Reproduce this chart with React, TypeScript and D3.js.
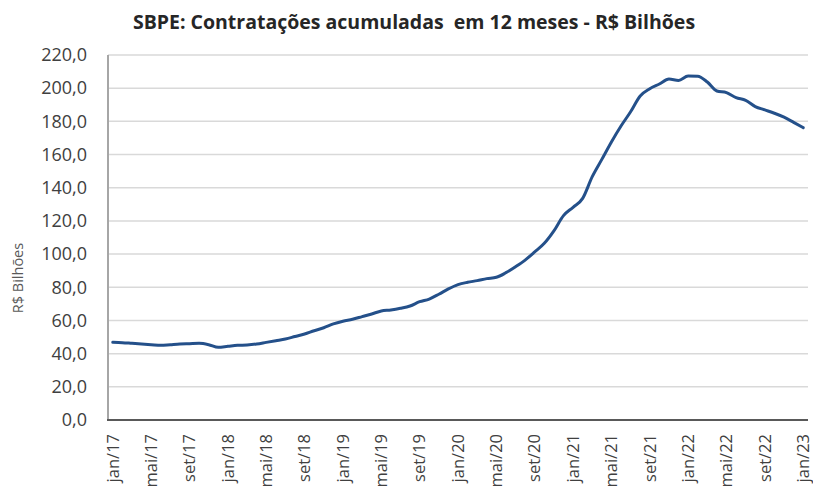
import React from "react";
import * as d3 from "d3";

// month names (pt-BR) and years used to build the category axis
const monthNames = ["jan", "fev", "mar", "abr", "mai", "jun", "jul", "ago", "set", "out", "nov", "dez"];
const years = ["17", "18", "19", "20", "21", "22", "23"];

// SBPE contratações acumuladas em 12 meses, R$ bilhões, jan/17 .. jan/23
const values2017 = [46.8, 46.6, 46.2, 45.8, 45.4, 45.0, 45.4, 45.8, 46.0, 46.2, 45.4, 43.8];
const values2018 = [44.4, 45.0, 45.2, 45.8, 46.8, 47.8, 48.8, 50.3, 51.8, 53.8, 55.6, 57.9];
const values2019 = [59.5, 60.7, 62.3, 63.9, 65.7, 66.3, 67.3, 68.7, 71.3, 72.9, 75.8, 79.0];
const values2020 = [81.6, 83.0, 84.0, 85.2, 86.0, 88.8, 92.4, 96.4, 101.3, 106.5, 114.0, 123.2];
const values2021 = [128.2, 133.6, 146.7, 157.1, 167.6, 177.2, 185.8, 195.3, 199.7, 202.5, 205.5, 204.7];
const values2022 = [207.3, 207.2, 203.7, 198.3, 197.3, 194.3, 192.7, 188.9, 186.9, 184.9, 182.5, 179.4];
const values2023 = [176.2];

const yTicks = [0, 20, 40, 60, 80, 100, 120, 140, 160, 180, 200, 220];

const values = [...values2017, ...values2018, ...values2019, ...values2020, ...values2021, ...values2022, ...values2023];
const categories = values.map((_, i) => monthNames[i % 12] + "/" + years[Math.floor(i / 12)]);

const font = "'Open Sans', sans-serif";

export default function App() {
  const width = 813, height = 491;
  const left = 108, right = 808, top = 55, bottom = 420;

  const x = d3.scaleBand().domain(categories).range([left, right]);
  const y = d3.scaleLinear().domain([0, 220]).range([bottom, top]);

  const data = values.map((v, i) => ({ c: categories[i], v }));
  const line = d3.line<{ c: string; v: number }>()
    .x(d => (x(d.c) as number) + x.bandwidth() / 2)
    .y(d => y(d.v))
    .curve(d3.curveMonotoneX);

  const fmt = (v: number) => v.toFixed(1).replace(".", ",");

  return (
    <div>
      <style>{`body{margin:0}`}</style>
      <svg width={width} height={height} style={{ display: "block", background: "#fff" }}>
        <text x={414} y={29} textAnchor="middle" fontFamily={font} fontWeight="bold" fontSize={19.5}
          fill="#262626" style={{ whiteSpace: "pre" }}>
          {"SBPE: Contratações acumuladas  em 12 meses - R$ Bilhões"}
        </text>

        {/* gridlines */}
        {yTicks.filter(t => t > 0).map(t => (
          <line key={"g" + t} x1={left} x2={right} y1={y(t)} y2={y(t)} stroke="#d9d9d9" strokeWidth={1.5} />
        ))}

        {/* y labels */}
        {yTicks.map(t => (
          <text key={"yl" + t} x={87} y={y(t)} dy="0.35em" textAnchor="end" fontFamily={font}
            fontSize={18} fill="#404040">{fmt(t)}</text>
        ))}

        <text transform={`translate(18,278) rotate(-90)`} textAnchor="middle" dy="0.35em"
          fontFamily={font} fontSize={14.5} fill="#595959">R$ Bilhões</text>

        {/* axes */}
        <line x1={left} x2={left} y1={top} y2={bottom} stroke="#a6a6a6" strokeWidth={2} />
        <line x1={left - 1} x2={right} y1={bottom} y2={bottom} stroke="#595959" strokeWidth={2.2} />

        {/* x labels every 4 months */}
        {categories.map((c, i) => i % 4 === 0 ? (
          <text key={c} transform={`translate(${(x(c) as number) + x.bandwidth() / 2},434) rotate(-90)`}
            dy="0.35em" textAnchor="end" fontFamily={font} fontSize={16.5} fill="#404040">{c}</text>
        ) : null)}

        <path d={line(data) || ""} fill="none" stroke="#24508a" strokeWidth={3} strokeLinejoin="round" strokeLinecap="round" />
      </svg>
    </div>
  );
}
